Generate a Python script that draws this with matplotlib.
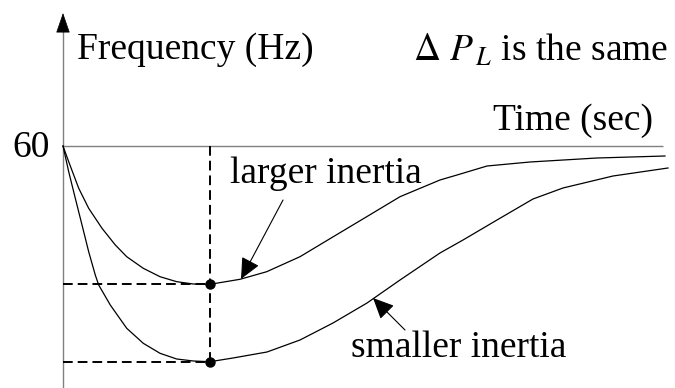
import matplotlib
matplotlib.use("Agg")
import matplotlib.pyplot as plt

plt.rcParams['font.family'] = ['Liberation Serif', 'DejaVu Serif']
plt.rcParams['mathtext.fontset'] = 'stix'
plt.rcParams['lines.scale_dashes'] = False

# ---- data (time in s, frequency in Hz), read from the schematic ----
t_large = [0, 0.095, 0.262, 0.428, 0.65, 0.872, 1.062, 1.338, 1.617, 1.895, 2.172,
           2.45, 2.95, 3.395, 3.95, 4.505, 5.062, 5.617, 6.283, 6.567, 7.067,
           7.783, 8.90, 10.033]
f_large = [60.0, 59.9215, 59.7885, 59.6885, 59.5885, 59.505, 59.4465, 59.3885, 59.3465,
           59.3215, 59.31, 59.3085, 59.3335, 59.3715, 59.4465, 59.5465, 59.6465,
           59.7465, 59.83, 59.855, 59.90, 59.92, 59.94, 59.95]

t_small = [0, 0.095, 0.205, 0.317, 0.428, 0.538, 0.595, 0.788, 1.062, 1.338, 1.617,
           1.895, 2.172, 2.45, 2.833, 3.40, 3.95, 4.50, 5.067, 5.617, 6.283, 6.667,
           7.233, 7.833, 8.333, 9.167, 10.083]
f_small = [60.0, 59.8715, 59.7385, 59.605, 59.4715, 59.355, 59.305, 59.205, 59.0885,
           59.0135, 58.9635, 58.935, 58.925, 58.9215, 58.94, 58.97, 59.03, 59.115,
           59.215, 59.33, 59.465, 59.53, 59.63, 59.735, 59.79, 59.85, 59.89]

t_nadir = 2.45
f_nadir_large = 59.3085
f_nadir_small = 58.9215
f_nominal = 60.0
tick_label = "60"

T_MIN, T_MAX = -1.05, 10.2
F_MIN, F_MAX = 58.79, 60.73

fig = plt.figure(figsize=(6.75, 3.88), dpi=100)
ax = fig.add_axes([0, 0, 1, 1])
ax.set_xlim(T_MIN, T_MAX)
ax.set_ylim(F_MIN, F_MAX)
ax.axis('off')

axis_color = '#808080'
# y axis
ax.plot([0, 0], [F_MIN, 60.60], color=axis_color, lw=1.0, solid_capstyle='butt', zorder=2)
ax.annotate('', xy=(0, 60.665), xytext=(0, 60.57),
            arrowprops=dict(arrowstyle='-|>,head_length=13,head_width=4.5', mutation_scale=1,
                            color='black', lw=0.5, shrinkA=0, shrinkB=0))
# x axis
ax.plot([0, 10.0], [f_nominal, f_nominal], color=axis_color, lw=1.0, solid_capstyle='butt', zorder=2)
ax.annotate('', xy=(10.22, f_nominal), xytext=(9.9, f_nominal),
            arrowprops=dict(arrowstyle='-|>,head_length=12,head_width=4.5', mutation_scale=1,
                            color='black', lw=0.5, shrinkA=0, shrinkB=0))

# curves
ax.plot(t_large, f_large, color='black', lw=0.9, zorder=3, solid_joinstyle='round')
ax.plot(t_small, f_small, color='black', lw=0.9, zorder=3, solid_joinstyle='round')

# dashed guide lines
dash = dict(color='black', lw=1.4, dashes=(7, 3.6), zorder=2)
ax.plot([0, t_nadir], [f_nadir_large, f_nadir_large], **dash)
ax.plot([0, t_nadir], [f_nadir_small, f_nadir_small], **dash)
ax.plot([t_nadir, t_nadir], [f_nominal, f_nadir_small], **dash)

# nadir dots
ax.plot([t_nadir, t_nadir], [f_nadir_large, f_nadir_small], 'o', color='black',
        markersize=6.5, zorder=4)

# texts
fs = 27
ax.text(0.233, 60.4335, 'Frequency (Hz)', fontsize=fs, ha='left', va='baseline')
ax.text(-0.217, 59.947, tick_label, fontsize=fs, ha='right', va='baseline')
ax.text(10.083, 60.425, r'$\Delta\ P_{\,L}$ is the same', fontsize=fs, ha='right', va='baseline')
ax.text(9.833, 60.08, 'Time (sec)', fontsize=fs, ha='right', va='baseline')
ax.text(2.783, 59.8135, 'larger inertia', fontsize=fs, ha='left', va='baseline')
ax.text(4.80, 58.9465, 'smaller inertia', fontsize=fs, ha='left', va='baseline')

# label arrows
arr = dict(arrowstyle='-|>,head_length=13,head_width=6', mutation_scale=1,
           color='black', lw=0.8, shrinkA=0, shrinkB=0)
ax.annotate('', xy=(2.967, 59.335), xytext=(3.667, 59.73), arrowprops=arr)
ax.annotate('', xy=(5.167, 59.24), xytext=(5.70, 59.08), arrowprops=arr)

fig.savefig('out.png', dpi=100)
